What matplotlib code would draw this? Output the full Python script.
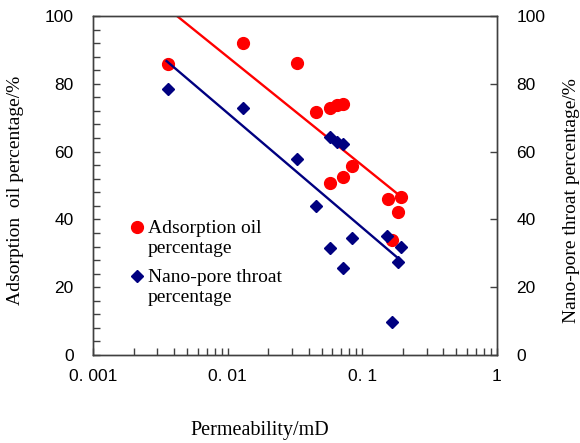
import numpy as np
import matplotlib
matplotlib.use("Agg")
import matplotlib.pyplot as plt
from matplotlib.ticker import FixedLocator, MultipleLocator, LogLocator, NullFormatter

# ---- data ----
oil_perm = [0.00359, 0.0130, 0.0329, 0.0450, 0.0574, 0.0644, 0.0721,
            0.0580, 0.0721, 0.0834, 0.155, 0.194, 0.185, 0.166]
oil_pct = [85.8, 91.9, 86.0, 71.6, 72.9, 73.7, 74.0,
           50.7, 52.6, 55.8, 46.0, 46.7, 42.1, 33.9]

nano_perm = [0.00359, 0.0130, 0.0329, 0.0450, 0.0574, 0.0721, 0.0834,
             0.0574, 0.0644, 0.0721, 0.153, 0.194, 0.185, 0.165]
nano_pct = [78.5, 73.0, 57.8, 44.0, 31.5, 25.8, 34.6,
            64.4, 62.9, 62.2, 35.2, 31.8, 27.5, 9.8]

oil_trend_x = [0.00359, 0.183]
oil_trend_y = [102.2, 47.5]
nano_trend_x = [0.00352, 0.185]
nano_trend_y = [86.7, 28.5]

x_ticks = [0.001, 0.01, 0.1, 1]
x_tick_labels = ["0. 001", "0. 01", "0. 1", "1"]
y_ticks = [0, 20, 40, 60, 80, 100]
y_tick_labels = ["0", "20", "40", "60", "80", "100"]

RED = "#FF0000"
NAVY = "#000080"
SPINE = "#404040"
sans = "Liberation Sans"
serif = "Liberation Serif"

fig = plt.figure(figsize=(5.8, 4.43), dpi=100)
ax = fig.add_axes([93 / 580, 1 - 355 / 443, 404 / 580, 339 / 443])
ax2 = ax.twinx()

ax.set_xscale("log")
ax.set_xlim(0.001, 1)
ax.set_ylim(0, 100)
ax2.set_ylim(0, 100)

l1, = ax.plot(oil_trend_x, oil_trend_y, color=RED, lw=1.7, zorder=2)
s1, = ax.plot(oil_perm, oil_pct, "o", color=RED, ms=8.5, mec=RED, zorder=3,
              label="Adsorption oil\npercentage")
l2, = ax2.plot(nano_trend_x, nano_trend_y, color=NAVY, lw=1.7, zorder=2)
s2, = ax2.plot(nano_perm, nano_pct, "D", color=NAVY, ms=6.5, mec=NAVY, zorder=3,
               label="Nano-pore throat\npercentage")

for a in (ax, ax2):
    for sp in a.spines.values():
        sp.set_color(SPINE)
        sp.set_linewidth(1.0)

ax.set_xticks(x_ticks)
ax.set_xticklabels(x_tick_labels, fontfamily=sans, fontsize=12.5)
ax.xaxis.set_minor_locator(LogLocator(base=10, subs=np.arange(2, 10)))
ax.xaxis.set_minor_formatter(NullFormatter())
ax.set_yticks(y_ticks)
ax.set_yticklabels(y_tick_labels, fontfamily=sans, fontsize=12.5)
ax.yaxis.set_minor_locator(MultipleLocator(4))
ax.tick_params(axis="both", which="both", direction="in", length=5, width=1,
               color=SPINE, top=False, right=False)
ax.tick_params(axis="x", which="both", pad=10)
ax.tick_params(axis="y", which="both", pad=14)

ax2.set_yticks(y_ticks)
ax2.set_yticklabels(y_tick_labels, fontfamily=sans, fontsize=12.5)
ax2.yaxis.set_minor_locator(FixedLocator([]))
ax2.tick_params(axis="y", which="both", direction="in", length=5, width=1,
                color=SPINE, pad=14)

ax.set_xlabel("Permeability/mD", fontfamily=serif, fontsize=14.5)
ax.xaxis.set_label_coords(0.413, -0.195)
ax.set_ylabel("Adsorption  oil percentage/%", fontfamily=serif, fontsize=14)
ax.yaxis.set_label_coords(-0.17, 0.487)
ax2.set_ylabel("Nano-pore throat percentage/%", fontfamily=serif, fontsize=14)
ax2.yaxis.set_label_coords(1.163, 0.455)

leg = ax.legend(handles=[s1, s2], loc="upper left",
                bbox_to_anchor=((131 - 93) / 404, (355 - 220) / 339),
                frameon=False, prop={"family": serif, "size": 14},
                handlelength=0.6, handletextpad=0.25, labelspacing=0.65,
                borderaxespad=0, borderpad=0)
for col in leg._legend_handle_box.get_children():
    for item in col.get_children():
        item.align = "top"

fig.savefig("out.png", dpi=100)
